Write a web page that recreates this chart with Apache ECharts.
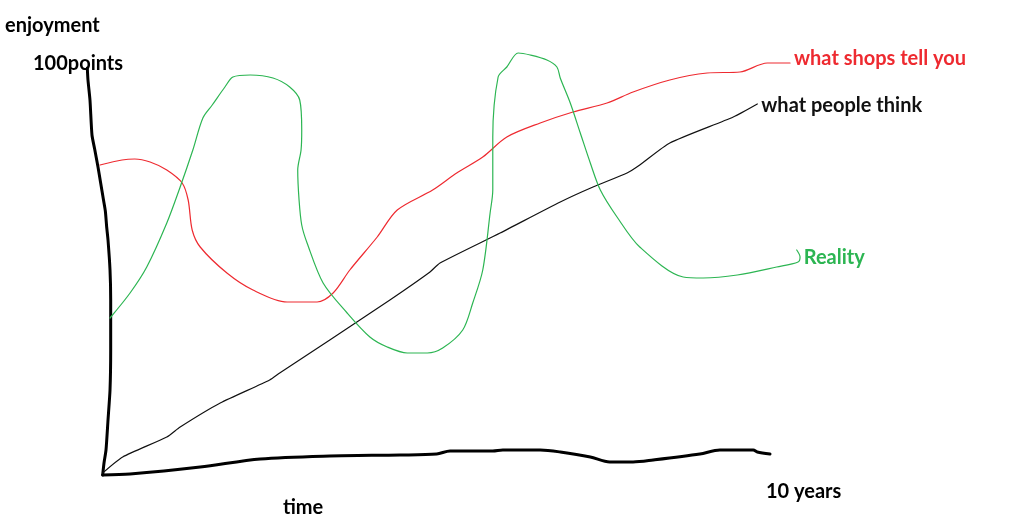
<!DOCTYPE html>
<html>
<head>
<meta charset="utf-8">
<script src="https://cdn.jsdelivr.net/npm/echarts@6/dist/echarts.min.js"></script>
<style>html,body{margin:0;padding:0;background:#fff;}#c{width:1024px;height:529px;}</style>
</head>
<body>
<div id="c"></div>
<script>
// time in years, enjoyment in points
const yAxisStroke = [[-0.22,101.75],[-0.21,98.75],[-0.18,93.75],[-0.15,85],[-0.11,81.5],[-0.06,77],[-0.02,73],[0.02,69],[0.05,66],[0.07,62],[0.09,58.75],[0.12,51.25],[0.13,43.75],[0.13,31.25],[0.12,21.25],[0.09,13.75],[0.06,6.25],[0.03,3],[0.01,0]];
const xAxisStroke = [[0.01,0],[0.42,0.25],[1.47,2],[2.37,4],[3.41,4.75],[4.46,5],[5.01,5.25],[5.21,6],[5.85,6],[6.0,6.25],[6.56,6.25],[6.86,5.75],[7.31,4.5],[7.60,3.25],[7.95,3.25],[8.25,3.75],[8.95,5.25],[9.25,6.25],[9.75,6.25],[9.81,5.75],[10.0,5.25]];
const peopleThink = [[0.01,0.5],[0.31,4.5],[0.97,9.5],[1.17,12],[1.77,18],[2.51,23.75],[2.66,25.5],[3.41,33.75],[4.31,43.75],[4.91,50.75],[5.06,53],[5.96,60.5],[6.86,68.25],[7.35,72],[7.86,75.5],[8.05,77.5],[8.50,83],[9.45,89.5],[9.81,92.75]];
const shopsTell = [[-0.03,77.5],[0.30,78.75],[0.49,79],[0.72,78.25],[0.97,76.25],[1.20,73],[1.29,68.75],[1.35,61.25],[1.47,57],[1.87,50.5],[2.26,46.25],[2.77,43.25],[3.22,43.25],[3.46,45.5],[3.71,51.25],[4.12,59.5],[4.42,66.25],[4.95,71.25],[5.31,75.5],[5.70,79.5],[6.06,84.5],[6.56,88],[7.05,90.75],[7.56,93],[7.95,95.75],[8.50,98.75],[9.06,100.5],[9.55,100.75],[9.96,103],[10.30,103]];
const reality = [[0.12,39.25],[0.42,45.5],[0.67,52],[0.97,63],[1.17,72],[1.36,81.25],[1.51,89.25],[1.65,92.5],[1.84,97],[1.96,99.5],[2.22,100],[2.56,99.25],[2.81,97],[2.96,93.75],[2.99,86.25],[2.98,81.25],[2.93,76.25],[2.95,68.75],[2.99,62.5],[3.07,58],[3.31,48],[3.67,40.5],[4.01,34.5],[4.27,32],[4.57,30.5],[4.87,30.5],[5.10,31.75],[5.40,36.25],[5.55,43],[5.70,51.25],[5.81,65.5],[5.85,71.25],[5.85,84.5],[5.93,99.5],[6.06,102],[6.23,105.5],[6.41,105],[6.66,103.75],[6.81,102],[6.86,99.25],[7.01,93],[7.16,85.5],[7.31,78],[7.46,71.25],[7.71,64.5],[8.05,57],[8.70,49.5],[9.0,49.25],[9.51,50],[10.10,52],[10.42,53.25],[10.45,54.5],[10.40,56.25]];
const labels = { y: 'enjoyment', top: '100points', x: 'time', end: '10 years', shops: 'what shops tell you', think: 'what people think', real: 'Reality' };

const FONT = 'Lato, "Open Sans", sans-serif';
const FS = 20;
const chart = echarts.init(document.getElementById('c'), null, {renderer: 'canvas'});
function line(data, color, width, smooth, lbl, offset) {
  const s = {
    type: 'line', data: data, showSymbol: false, symbol: 'none', smooth: smooth,
    lineStyle: {color: color, width: width, cap: 'round', join: 'round'},
    silent: true, animation: false
  };
  if (lbl) {
    s.endLabel = {show: true, formatter: lbl, color: color, fontFamily: FONT, fontWeight: 'bold', fontSize: FS, distance: 4, offset: offset};
  }
  return s;
}
chart.setOption({
  backgroundColor: '#fff',
  animation: false,
  grid: {left: 1.8, top: 15, width: 1002, height: 508, containLabel: false},
  xAxis: {type: 'value', min: -1.5, max: 13.5, show: false},
  yAxis: {type: 'value', min: -12, max: 115, show: false},
  graphic: [
    {type: 'text', left: 5, top: 16, style: {text: labels.y, font: 'bold ' + FS + 'px ' + FONT, fill: '#000'}},
    {type: 'text', left: 33, top: 54, style: {text: labels.top, font: 'bold ' + FS + 'px ' + FONT, fill: '#000'}},
    {type: 'text', left: 283, top: 498, style: {text: labels.x, font: 'bold ' + FS + 'px ' + FONT, fill: '#000'}},
    {type: 'text', left: 766, top: 482, style: {text: labels.end, font: 'bold ' + FS + 'px ' + FONT, fill: '#000'}}
  ],
  series: [
    line(yAxisStroke, '#000', 3, 0.2),
    line(xAxisStroke, '#000', 3, 0.3),
    line(peopleThink, '#111', 1.2, 0.2, labels.think, [0, 2]),
    line(shopsTell, '#ee2a30', 1.2, 0.3, labels.shops, [0, -4]),
    line(reality, '#2cb552', 1.2, 0.3, labels.real, [3, 8])
  ]
});
</script>
</body>
</html>
